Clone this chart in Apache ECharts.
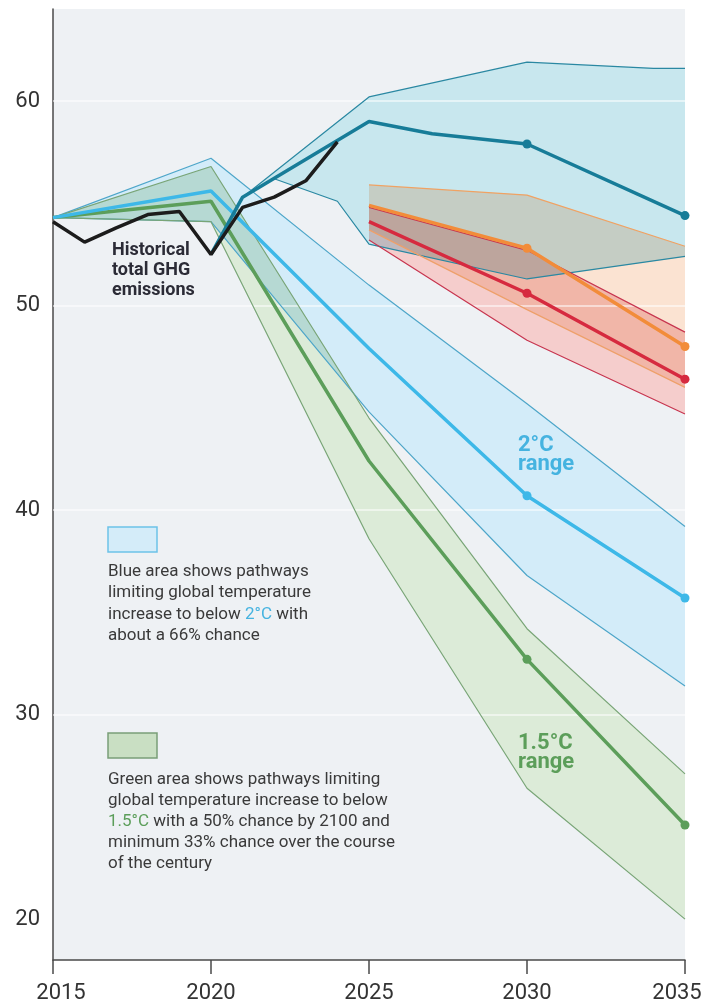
<!DOCTYPE html>
<html>
<head>
<meta charset="utf-8">
<script src="https://cdn.jsdelivr.net/npm/echarts@6/dist/echarts.min.js"></script>
<style>
  html, body { margin: 0; padding: 0; background: #ffffff; }
  #chart { width: 705px; height: 1006px; }
</style>
</head>
<body>
<div id="chart"></div>
<script>
// Axis ticks
const xTicks = [2015, 2020, 2025, 2030, 2035];
const yTicks = [20, 30, 40, 50, 60];
const gridValues = [30, 40, 50, 60];

// Historical total GHG emissions (GtCO2e)
const histYears = [2015, 2016, 2017, 2018, 2019, 2020, 2021, 2022, 2023, 2024];
const histValues = [54.1, 53.1, 53.8, 54.45, 54.6, 52.5, 54.8, 55.3, 56.1, 58.0];

// Current policies: range and median
const cpUpper  = [[2020, 52.5], [2021, 55.3], [2025, 60.2], [2030, 61.9], [2034, 61.6], [2035, 61.6]];
const cpMedian = [[2020, 52.5], [2021, 55.3], [2025, 59.0], [2027, 58.4], [2030, 57.9], [2035, 54.4]];
const cpLower  = [[2020, 52.5], [2021, 55.3], [2022, 56.2], [2024, 55.1], [2025, 53.0], [2030, 51.3], [2035, 52.4]];

// Unconditional NDCs
const ucUpper  = [[2025, 55.9], [2030, 55.4], [2035, 52.9]];
const ucMedian = [[2025, 54.9], [2030, 52.8], [2035, 48.0]];
const ucLower  = [[2025, 53.7], [2030, 49.8], [2035, 46.0]];

// Conditional NDCs
const cdUpper  = [[2025, 54.8], [2030, 52.7], [2035, 48.7]];
const cdMedian = [[2025, 54.1], [2030, 50.6], [2035, 46.4]];
const cdLower  = [[2025, 53.2], [2030, 48.3], [2035, 44.7]];

// 2°C pathways
const t2Upper  = [[2015, 54.3], [2020, 57.2], [2025, 51.0], [2030, 45.2], [2035, 39.2]];
const t2Median = [[2015, 54.3], [2020, 55.6], [2025, 47.9], [2030, 40.7], [2035, 35.7]];
const t2Lower  = [[2015, 54.3], [2020, 54.1], [2025, 44.8], [2030, 36.8], [2035, 31.4]];

// 1.5°C pathways
const t15Upper  = [[2015, 54.3], [2020, 56.8], [2025, 44.5], [2030, 34.2], [2035, 27.1]];
const t15Median = [[2015, 54.3], [2020, 55.1], [2025, 42.4], [2030, 32.7], [2035, 24.6]];
const t15Lower  = [[2015, 54.3], [2020, 54.1], [2025, 38.6], [2030, 26.4], [2035, 20.0]];

const FONT = 'Roboto, "Noto Sans", sans-serif';
const PLOT_BG = '#eef1f4';

// Filled range between an upper and a lower boundary; overlapping ranges multiply
function bandFill(name, upper, lower, fill) {
  return {
    type: 'custom',
    name: name + ' range',
    silent: true,
    z: 2,
    blendMode: 'multiply',
    data: [0],
    renderItem: function (params, api) {
      const pts = upper.map(p => api.coord(p))
        .concat(lower.slice().reverse().map(p => api.coord(p)));
      return {
        type: 'polygon',
        shape: { points: pts },
        style: { fill: fill }
      };
    }
  };
}

function edgeLine(name, pts, color) {
  return {
    type: 'line', name: name, data: pts, silent: true, z: 5,
    symbol: 'none',
    lineStyle: { color: color, width: 1.2 }
  };
}

function medianLine(name, pts, color) {
  return {
    type: 'line', name: name, data: pts, silent: true, z: 6,
    symbol: 'circle', showSymbol: true, showAllSymbol: true,
    symbolSize: v => (v[0] >= 2030 ? 9 : 0),
    itemStyle: { color: color },
    lineStyle: { color: color, width: 3.5 }
  };
}

// Short dashed leader to the right of the 2035 end point
function leader(pts) {
  const v = pts[pts.length - 1][1];
  return {
    type: 'line', data: [[2035.22, v], [2035.58, v]], clip: false, silent: true, z: 6,
    symbol: 'none',
    lineStyle: { color: '#8c8c8c', width: 1, type: [3, 3] }
  };
}

const series = [
  bandFill('Current policies', cpUpper, cpLower, '#c8e7ee'),
  bandFill('2°C', t2Upper, t2Lower, '#d3ecf9'),
  bandFill('1.5°C', t15Upper, t15Lower, '#dcebd8'),
  bandFill('Unconditional NDCs', ucUpper, ucLower, '#fbe3d2'),
  bandFill('Conditional NDCs', cdUpper, cdLower, '#f5cdcc'),

  // light reference lines across the plot
  {
    type: 'line', data: [], z: 3, silent: true,
    markLine: {
      silent: true, symbol: ['none', 'none'], label: { show: false },
      lineStyle: { color: 'rgba(255,255,255,0.7)', width: 1.6, type: 'solid' },
      data: gridValues.map(v => ({ yAxis: v }))
    }
  },

  // plot background, painted behind everything already drawn
  {
    type: 'custom', silent: true, z: 4, blendMode: 'destination-over',
    data: [0],
    renderItem: function (params) {
      const cs = params.coordSys;
      return {
        type: 'rect',
        shape: { x: cs.x, y: cs.y, width: cs.width, height: cs.height },
        style: { fill: PLOT_BG }
      };
    }
  },

  edgeLine('cp upper', cpUpper, '#2a88a2'),
  edgeLine('cp lower', cpLower, '#2a88a2'),
  edgeLine('t2 upper', t2Upper, '#4ea6c9'),
  edgeLine('t2 lower', t2Lower, '#4ea6c9'),
  edgeLine('t15 upper', t15Upper, '#79a577'),
  edgeLine('t15 lower', t15Lower, '#79a577'),
  edgeLine('uc upper', ucUpper, '#f0a263'),
  edgeLine('uc lower', ucLower, '#eea06a'),
  edgeLine('cd upper', cdUpper, '#c7354f'),
  edgeLine('cd lower', cdLower, '#c7354f'),

  medianLine('1.5°C median', t15Median, '#5c9e5a'),
  medianLine('2°C median', t2Median, '#3db8e8'),
  medianLine('Current policies median', cpMedian, '#177c98'),
  medianLine('Unconditional NDCs median', ucMedian, '#f28c3a'),
  medianLine('Conditional NDCs median', cdMedian, '#d62a3f'),

  leader(cpMedian), leader(ucMedian), leader(cdMedian), leader(t2Median), leader(t15Median),

  {
    type: 'line', name: 'Historical total GHG emissions', silent: true, z: 7,
    data: histYears.map((y, i) => [y, histValues[i]]),
    symbol: 'none',
    lineStyle: { color: '#1c1c1c', width: 3.5 }
  }
];

const textBase = { fontFamily: FONT, align: 'left', verticalAlign: 'top' };

const chart = echarts.init(document.getElementById('chart'), null, { renderer: 'canvas' });
chart.setOption({
  animation: false,
  backgroundColor: 'transparent',
  grid: { left: 53, right: 20, top: 9, bottom: 46, show: false },
  xAxis: {
    type: 'value', min: 2015, max: 2035, interval: 5,
    axisLine: { show: true, onZero: false, lineStyle: { color: '#4a4a4a', width: 1.5 } },
    axisTick: { show: true, length: 14, lineStyle: { color: '#4a4a4a', width: 1.5 } },
    splitLine: { show: false },
    axisLabel: {
      margin: 22, fontSize: 22, color: '#333333', fontFamily: FONT,
      formatter: v => {
        if (v === xTicks[0]) return '{l|' + v + '}';
        if (v === xTicks[xTicks.length - 1]) return '{r|' + v + '}';
        return '{n|' + v + '}';
      },
      rich: {
        l: { fontSize: 22, color: '#333333', fontFamily: FONT, padding: [0, 0, 0, 16] },
        r: { fontSize: 22, color: '#333333', fontFamily: FONT, padding: [0, 16, 0, 0] },
        n: { fontSize: 22, color: '#333333', fontFamily: FONT }
      }
    }
  },
  yAxis: {
    type: 'value', min: 18, max: 64.5, interval: 2,
    axisLine: { show: true, onZero: false, lineStyle: { color: '#4a4a4a', width: 1.5 } },
    axisTick: { show: false },
    splitLine: { show: false },
    axisLabel: {
      margin: 13, fontSize: 22, color: '#333333', fontFamily: FONT,
      formatter: v => (yTicks.indexOf(v) >= 0 ? String(v) : '')
    }
  },
  series: series,
  graphic: [
    {
      type: 'text', x: 112, y: 240, z: 10, silent: true,
      style: Object.assign({}, textBase, {
        text: 'Historical\ntotal GHG\nemissions',
        fontSize: 18, fontWeight: 'bold', lineHeight: 20, fill: '#2b2b36'
      })
    },
    {
      type: 'text', x: 518, y: 436, z: 10, silent: true,
      style: Object.assign({}, textBase, {
        text: '2°C\nrange', fontSize: 22, fontWeight: 'bold', lineHeight: 19, fill: '#45b3e0'
      })
    },
    {
      type: 'text', x: 518, y: 734, z: 10, silent: true,
      style: Object.assign({}, textBase, {
        text: '1.5°C\nrange', fontSize: 22, fontWeight: 'bold', lineHeight: 19, fill: '#5c9e5a'
      })
    },
    {
      type: 'rect', x: 108, y: 527, z: 10, silent: true,
      shape: { width: 49, height: 25 },
      style: { fill: '#d4ecf9', stroke: '#6cc2e8', lineWidth: 1.5 }
    },
    {
      type: 'text', x: 108, y: 561, z: 10, silent: true,
      style: Object.assign({}, textBase, {
        text: 'Blue area shows pathways\nlimiting global temperature\nincrease to below {b|2°C} with\nabout a 66% chance',
        fontSize: 17, lineHeight: 21.3, fill: '#3a3a3a',
        rich: { b: { fill: '#45b3e0', fontSize: 17, lineHeight: 21.3, fontFamily: FONT } }
      })
    },
    {
      type: 'rect', x: 108, y: 733, z: 10, silent: true,
      shape: { width: 49, height: 25 },
      style: { fill: '#c9dfc3', stroke: '#7a9e78', lineWidth: 1.5 }
    },
    {
      type: 'text', x: 108, y: 769, z: 10, silent: true,
      style: Object.assign({}, textBase, {
        text: 'Green area shows pathways limiting\nglobal temperature increase to below\n{g|1.5°C} with a 50% chance by 2100 and\nminimum 33% chance over the course\nof the century',
        fontSize: 17, lineHeight: 21, fill: '#3a3a3a',
        rich: { g: { fill: '#5c9e5a', fontSize: 17, lineHeight: 21, fontFamily: FONT } }
      })
    }
  ]
});
</script>
</body>
</html>
